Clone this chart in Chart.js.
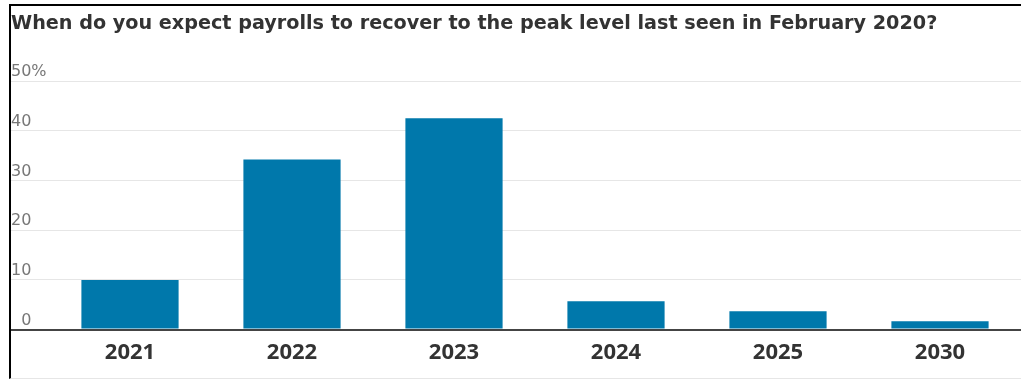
<!DOCTYPE html>
<html>
<head>
<meta charset="utf-8">
<script src="https://cdn.jsdelivr.net/npm/chart.js@4.4.1/dist/chart.umd.min.js"></script>
<style>
  html, body { margin: 0; padding: 0; background: #fff; }
  /* frame: heavy rule on top and left, hairline at the bottom */
  #frame {
    position: absolute;
    left: 9px;
    top: 4px;
    width: 1010px;
    height: 372px;
    border-top: 2px solid #000;
    border-left: 2px solid #000;
    border-bottom: 1px solid #e6e6e6;
  }
  #wrap { position: relative; width: 1010px; height: 372px; }
</style>
</head>
<body>
<div id="frame">
  <div id="wrap"><canvas id="payrolls"></canvas></div>
</div>
<script>
const titleText = 'When do you expect payrolls to recover to the peak level last seen in February 2020?';
const years = ['2021', '2022', '2023', '2024', '2025', '2030'];
const shares = [10.0, 34.2, 42.5, 5.7, 3.7, 1.7];
const yTicks = [0, 10, 20, 30, 40, 50];
// figure space keeps the single digit lined up with the tens column
const yTickLabels = ['\u20070', '10', '20', '30', '40', '50%'];

const zeroLine = ctx => ctx.tick && ctx.tick.value === 0;

new Chart(document.getElementById('payrolls'), {
    type: 'bar',
    data: {
        labels: years,
        datasets: [{
            label: 'Share of respondents',
            data: shares,
            backgroundColor: '#0078ab',
            borderWidth: 0,
            barPercentage: 0.6,
            categoryPercentage: 1.0
        }]
    },
    options: {
        responsive: true,
        maintainAspectRatio: false,
        animation: false,
        layout: { padding: { left: 0, right: 0, top: 0, bottom: 2 } },
        plugins: {
            legend: { display: false },
            tooltip: { enabled: false },
            title: {
                display: true,
                text: titleText,
                align: 'start',
                color: '#333',
                font: { family: 'DejaVu Sans', weight: 'bold', size: 19.2 },
                padding: { top: 6, bottom: 46 }
            }
        },
        scales: {
            x: {
                grid: { display: false, drawTicks: false },
                border: { display: false },
                ticks: {
                    color: '#333',
                    padding: 10,
                    font: { family: 'Open Sans', weight: 'bold', size: 22 }
                }
            },
            y: {
                min: 0,
                max: 50,
                afterFit: scale => { scale.width = 38; },
                afterBuildTicks: scale => {
                    scale.ticks = yTicks.map(v => ({ value: v }));
                },
                grid: {
                    color: ctx => zeroLine(ctx) ? '#444' : '#e6e6e6',
                    lineWidth: ctx => zeroLine(ctx) ? 2 : 1,
                    tickLength: 38
                },
                border: { display: false },
                ticks: {
                    crossAlign: 'far',
                    labelOffset: -9,
                    padding: 0,
                    color: '#777',
                    font: { family: 'DejaVu Sans', size: 16 },
                    callback: (value) => yTickLabels[yTicks.indexOf(value)]
                }
            }
        }
    }
});
</script>
</body>
</html>
